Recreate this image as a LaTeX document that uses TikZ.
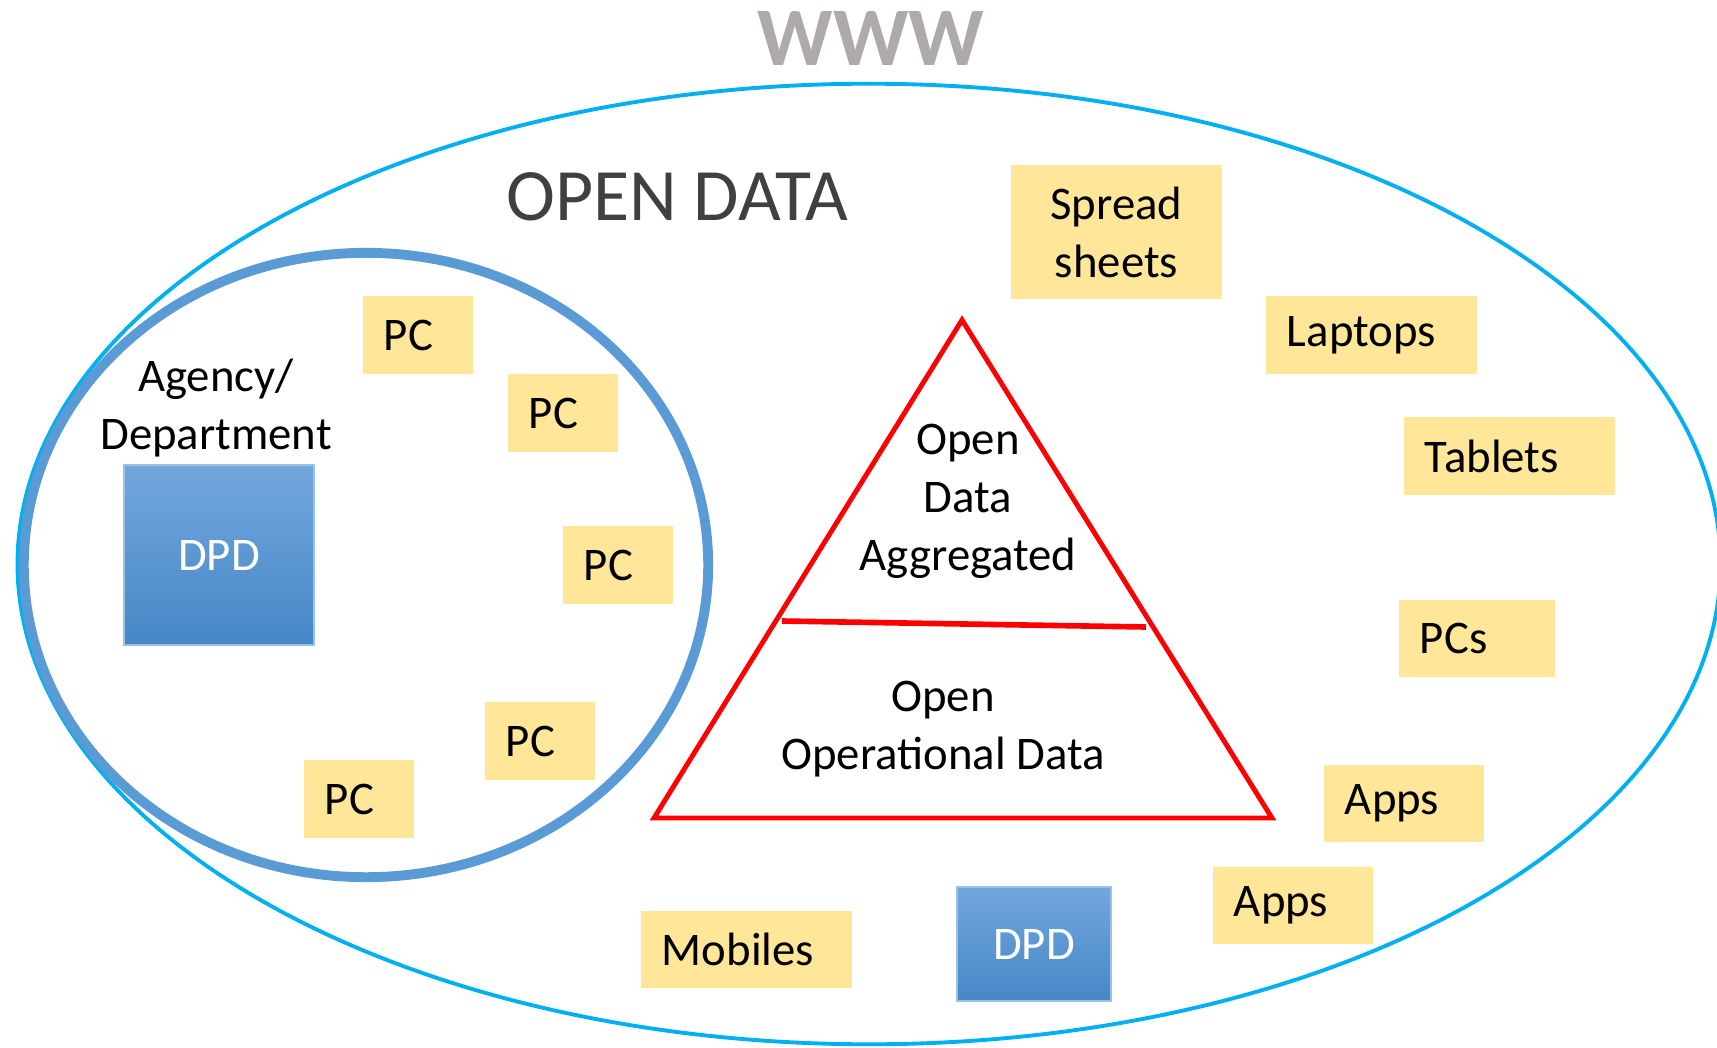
\documentclass[tikz,border=0pt]{standalone}
\usepackage{fontspec}
\setmainfont{Carlito}
\usepackage{tikz}
\usetikzlibrary{positioning}

\definecolor{wwwgrey}{HTML}{AEAAAA}
\definecolor{webcyan}{HTML}{00B0F0}
\definecolor{agencyblue}{HTML}{5B9BD5}
\definecolor{notefill}{HTML}{FFE699}
\definecolor{titlegrey}{HTML}{404040}
\definecolor{dpdtop}{HTML}{72A7DD}
\definecolor{dpdbottom}{HTML}{4787C7}

\newcommand{\boxfont}{\fontsize{13.3}{16.5}\selectfont}

\tikzset{
    postit/.style={fill=notefill, inner xsep=0.21cm, inner ysep=0pt, minimum height=0.77cm,
        text width=#1, align=left, font=\boxfont},
    postit/.default=0.68cm,
    dpdbox/.style={draw=dpdtop!70!white, line width=0.4pt, top color=dpdtop, bottom color=dpdbottom,
        text=white, font=\boxfont, inner sep=0pt},
    label text/.style={font=\boxfont, align=center, inner sep=0pt}
}

\begin{document}
\begin{tikzpicture}[x=0.01cm, y=-0.01cm]
    \useasboundingbox (0,0) rectangle (1717,1048);

    % The web around everything
    \node[font=\fontsize{23.7}{28}\selectfont\bfseries, text=wwwgrey, inner sep=0pt] (www) at (871,38) {WWW};
    \draw[webcyan, line width=1.1pt] (869,564) ellipse [x radius=8.51cm, y radius=4.80cm];
    \node[font=\fontsize{21}{25}\selectfont, text=titlegrey, inner sep=0pt] (opendata) at (677,197) {OPEN DATA};

    % Left: Agency / Department
    \begin{scope}[shift={(366,565)}]
        \draw[agencyblue, line width=2.8pt] (0,0) ellipse [x radius=3.42cm, y radius=3.12cm];
        \node[label text] (agency) at (-150,-157) {Agency/\\Department};
        \node[dpdbox, minimum width=1.90cm, minimum height=1.80cm] (dpdagency) at (-147,-10) {DPD};

        \node[postit] (pcA) at (52,-230) {PC};
        \node[postit] (pcB) at (197,-152) {PC};
        \node[postit] (pcC) at (252,0) {PC};
        \node[postit] (pcD) at (174,176) {PC};
        \node[postit] (pcE) at (-7,234) {PC};
    \end{scope}

    % Middle: the data pyramid
    \coordinate (apex) at (962,320);
    \coordinate (baseL) at (654,818);
    \coordinate (baseR) at (1272,818);
    \coordinate (cutL) at (782,621);
    \coordinate (cutR) at (1146,627);
    \draw[red, line width=1.4pt] (apex) -- (baseR) -- (baseL) -- cycle;
    \draw[red, line width=1.6pt] (cutL) -- (cutR);
    \node[label text] (aggregated) at (968,501) {Open\\Data\\Aggregated};
    \node[label text] (operational) at (943,729) {Open\\Operational Data};

    % Right: what the data reaches
    \node[postit=1.69cm, minimum height=1.34cm, align=center] (sheets) at (1116.5,232) {Spread\\sheets};
    \node[postit=1.69cm] (laptops) at (1371.5,335) {Laptops};
    \node[postit=1.69cm] (tablets) at (1509.5,456) {Tablets};
    \node[postit=1.14cm] (pcs) at (1477,638.5) {PCs};
    \node[postit=1.18cm] (appsA) at (1404,803.5) {Apps};
    \node[postit=1.18cm] (appsB) at (1293,905.5) {Apps};
    \node[postit=1.69cm] (mobiles) at (746.5,949.5) {Mobiles};
    \node[dpdbox, minimum width=1.54cm, minimum height=1.14cm] (dpdweb) at (1034,944) {DPD};
\end{tikzpicture}
\end{document}
